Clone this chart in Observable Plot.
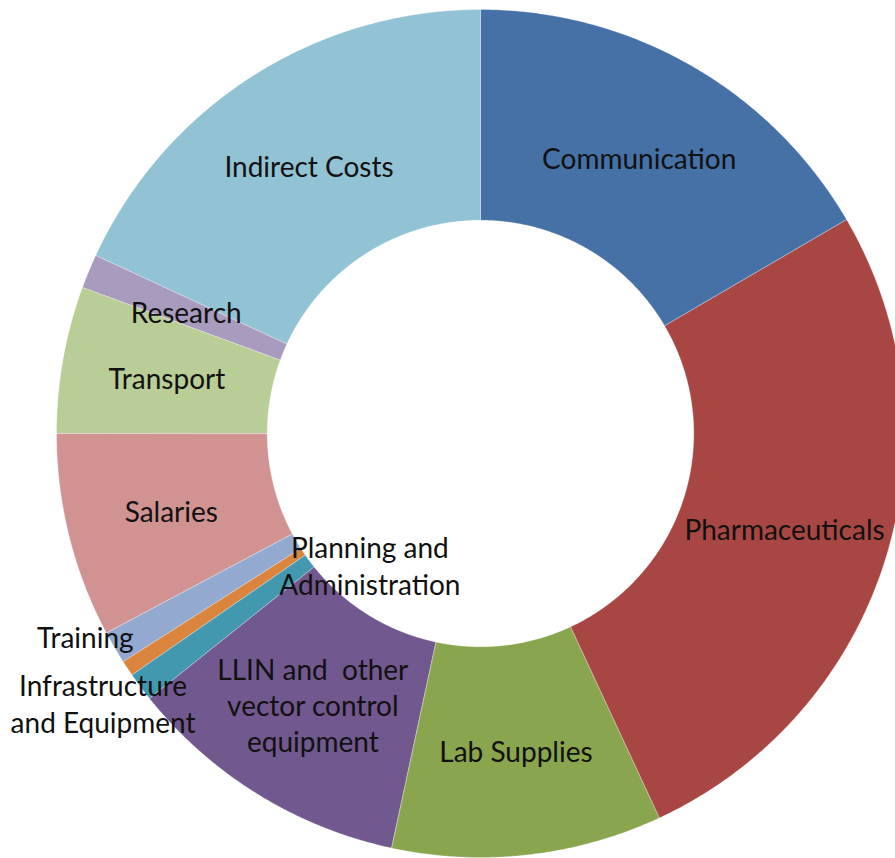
<!DOCTYPE html>
<html>
<head>
<meta charset="utf-8">
<script src="https://cdn.jsdelivr.net/npm/d3@7"></script>
<script src="https://cdn.jsdelivr.net/npm/@observablehq/plot@0.6"></script>
<style>
  html, body { margin: 0; padding: 0; background: #fff; }
  #chart svg { display: block; }
</style>
</head>
<body>
<div id="chart"></div>
<script>
// ---- data (% of total) ----
const categories = [
  "Communication",
  "Pharmaceuticals",
  "Lab Supplies",
  "LLIN and other vector control equipment",
  "Planning and Administration",
  "Infrastructure and Equipment",
  "Training",
  "Salaries",
  "Transport",
  "Research",
  "Indirect Costs"
];
const values = [16.6, 26.5, 10.3, 10.9, 1.1, 0.6, 1.25, 7.8, 5.6, 1.3, 18.1];
const labelTexts = [
  "Communication",
  "Pharmaceuticals",
  "Lab Supplies",
  "LLIN and  other\nvector control\nequipment",
  "Planning and\nAdministration",
  "Infrastructure\nand Equipment",
  "Training",
  "Salaries",
  "Transport",
  "Research",
  "Indirect Costs"
];

// ---- styles / layout ----
const colors = ["#4571A6", "#A84644", "#89A54E", "#71588F", "#4198AF", "#DB843D",
                "#93A9CF", "#D19392", "#B9CD96", "#A99BBD", "#92C3D4"];
// pixel nudges for labels that were moved off their slices
const labelNudge = {
  "Planning and Administration": [145, -59],
  "Infrastructure and Equipment": [-112, 93],
  "Training": [-120, 42]
};
const cx = 480, cy = 433, R = 424, innerRatio = 0.503;

// ---- build slice polygons through d3.pie ----
const arcs = d3.pie().sort(null).value(d => d.value)(
  categories.map((name, i) => ({name, value: values[i], color: colors[i], label: labelTexts[i]}))
);
const rows = [];
const labels = [];
for (const a of arcs) {
  const n = Math.max(4, Math.ceil((a.endAngle - a.startAngle) / 0.005));
  for (let k = 0; k <= n; k++) {
    const t = a.startAngle + (a.endAngle - a.startAngle) * k / n;
    rows.push({name: a.data.name, color: a.data.color, x: Math.sin(t), y: Math.cos(t)});
  }
  for (let k = n; k >= 0; k--) {
    const t = a.startAngle + (a.endAngle - a.startAngle) * k / n;
    rows.push({name: a.data.name, color: a.data.color, x: innerRatio * Math.sin(t), y: innerRatio * Math.cos(t)});
  }
  const mid = (a.startAngle + a.endAngle) / 2;
  const rm = (1 + innerRatio) / 2;
  const nudge = labelNudge[a.data.name] || [0, 0];
  labels.push({label: a.data.label, x: rm * Math.sin(mid), y: rm * Math.cos(mid), dx: nudge[0], dy: nudge[1]});
}

const plain = labels.filter(d => d.dx === 0 && d.dy === 0);
const moved = labels.filter(d => d.dx !== 0 || d.dy !== 0);

const chart = Plot.plot({
  width: 895,
  height: 858,
  margin: 0,
  style: {background: "#fff"},
  x: {domain: [-1, 1], range: [cx - R, cx + R], axis: null},
  y: {domain: [-1, 1], range: [cy + R, cy - R], axis: null},
  marks: [
    Plot.line(rows, {x: "x", y: "y", z: "name", fill: "color", stroke: "#ffffff", strokeWidth: 0.5, strokeOpacity: 0.6, curve: "linear-closed"}),
    Plot.text(plain, {x: "x", y: "y", text: "label", fontFamily: "Lato", fontSize: 28, lineHeight: 1.3, fill: "#111"}),
    ...moved.map(d => Plot.text([d], {x: "x", y: "y", text: "label", dx: d.dx, dy: d.dy, fontFamily: "Lato", fontSize: 28, lineHeight: 1.3, fill: "#111"}))
  ]
});
document.getElementById("chart").appendChild(chart);
</script>
</body>
</html>
